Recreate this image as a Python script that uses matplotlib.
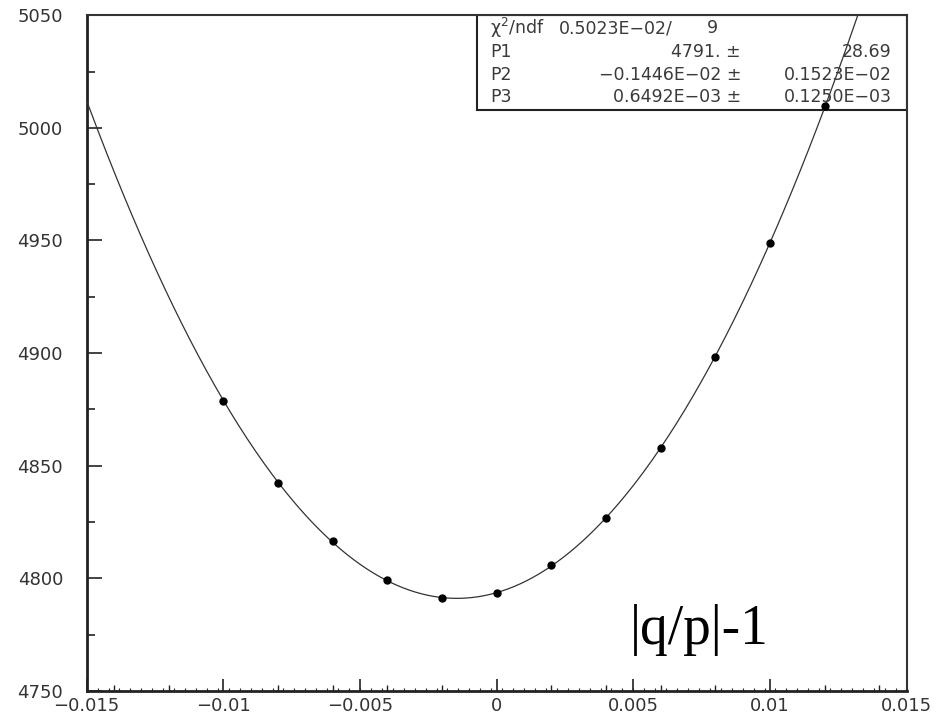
import numpy as np
import matplotlib
matplotlib.use("Agg")
import matplotlib.pyplot as plt
from matplotlib.patches import Rectangle
from matplotlib.ticker import MultipleLocator, FixedLocator

# measured points (|q/p|-1 vs value)
x_pts = [-0.010, -0.008, -0.006, -0.004, -0.002, 0.000,
         0.002, 0.004, 0.006, 0.008, 0.010, 0.012]
y_pts = [4878.8, 4842.4, 4816.6, 4799.2, 4791.3, 4793.5,
         4805.9, 4826.9, 4857.7, 4898.4, 4948.7, 5009.6]

# axis ticks
x_ticks = [-0.015, -0.01, -0.005, 0, 0.005, 0.01, 0.015]
x_ticklabels = ["\u22120.015", "\u22120.01", "\u22120.005", "0", "0.005", "0.01", "0.015"]
y_ticks = [4750, 4800, 4850, 4900, 4950, 5000, 5050]

# fit box contents
chi_val = "0.5023E\u221202/"
ndf_val = "9"
par_names = ["P1", "P2", "P3"]
par_vals = ["4791. \u00b1", "\u22120.1446E\u221202 \u00b1", "0.6492E\u221203 \u00b1"]
par_errs = ["28.69", "0.1523E\u221202", "0.1250E\u221203"]

label_text = "|q/p|-1"

plt.rcParams['font.family'] = ['DejaVu Sans']
fig = plt.figure(figsize=(9.39, 7.15), dpi=100)
ax = fig.add_axes([0.0923, 0.0336, 0.8733, 0.9451])

# second order fit through the points, like the original fit curve
coef = np.polyfit(x_pts, y_pts, 2)
xc = np.linspace(-0.015, 0.015, 400)
ax.plot(xc, np.polyval(coef, xc), color='#333333', lw=0.9, zorder=3)
ax.plot(x_pts, y_pts, 'o', color='black', ms=5, zorder=4)

ax.set_xlim(-0.015, 0.015)
ax.set_ylim(4750, 5050)

# stats box in the upper right corner
ax.add_patch(Rectangle((0.4756, 0.8597), 0.5244, 0.1403, transform=ax.transAxes,
                       facecolor='white', edgecolor='#222222', lw=1.5, zorder=2))
tc = '#3a3a3a'
fs = 12.5
ax.text(0.4918, 0.981, "\u03c7$^2$/ndf", transform=ax.transAxes, fontsize=fs,
        color=tc, va='center', ha='left', zorder=2.5)
ax.text(0.7151, 0.981, chi_val, transform=ax.transAxes, fontsize=fs,
        color=tc, va='center', ha='right', zorder=2.5)
ax.text(0.7699, 0.981, ndf_val, transform=ax.transAxes, fontsize=fs,
        color=tc, va='center', ha='right', zorder=2.5)
rows_y = [0.9455, 0.912, 0.8787]
for yy, nm, v, e in zip(rows_y, par_names, par_vals, par_errs):
    ax.text(0.4918, yy, nm, transform=ax.transAxes, fontsize=fs, color=tc,
            va='center', ha='left', zorder=2.5)
    ax.text(0.798, yy, v, transform=ax.transAxes, fontsize=fs, color=tc,
            va='center', ha='right', zorder=2.5)
    ax.text(0.9817, yy, e, transform=ax.transAxes, fontsize=fs, color=tc,
            va='center', ha='right', zorder=2.5)

# big label inside the plot
ax.text(0.6626, 0.0695, label_text, transform=ax.transAxes, fontsize=40,
        family='Liberation Serif', color='black', ha='left', va='baseline')

# ticks: PAW style, inward, left and bottom only
ax.set_xticks(x_ticks)
ax.set_xticklabels(x_ticklabels)
ax.xaxis.set_minor_locator(MultipleLocator(0.002))
ax.set_yticks(y_ticks)
ax.yaxis.set_minor_locator(MultipleLocator(25))
ax.tick_params(axis='both', which='both', direction='in', top=False, right=False,
               labelsize=13, labelcolor='#333333', color='#222222')
ax.tick_params(axis='y', which='major', length=11, width=1.2, pad=17)
ax.tick_params(axis='y', which='minor', length=6, width=1.2)
ax.tick_params(axis='x', which='major', length=9, width=1.2, pad=4)
ax.tick_params(axis='x', which='minor', length=4.5, width=1.0)

# finest ticks on the x axis
sec = ax.secondary_xaxis('bottom')
sec.xaxis.set_major_locator(FixedLocator(np.arange(-0.015, 0.01501, 0.0004)))
sec.tick_params(direction='in', length=2, width=0.8, color='#222222', labelbottom=False)
sec.spines['bottom'].set_visible(False)

for side in ['left', 'bottom']:
    ax.spines[side].set_linewidth(2.0)
    ax.spines[side].set_color('#222222')
for side in ['top', 'right']:
    ax.spines[side].set_linewidth(1.5)
    ax.spines[side].set_color('#333333')

fig.savefig("out.png", dpi=100)
